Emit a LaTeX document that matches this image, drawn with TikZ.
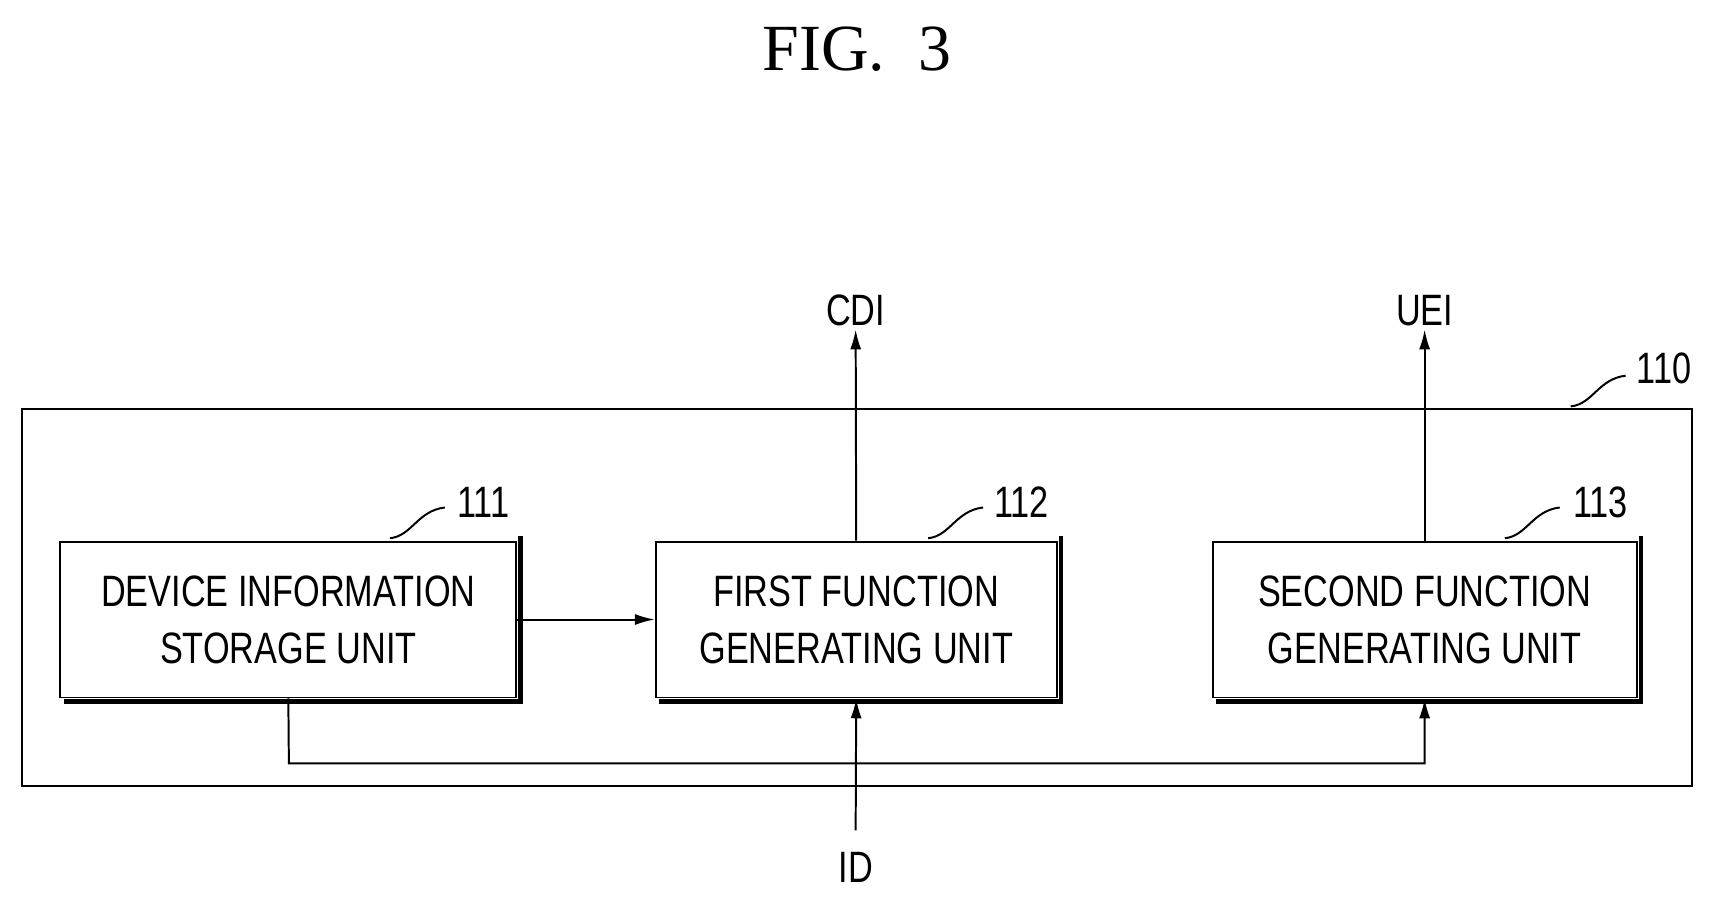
\documentclass[tikz,border=0pt]{standalone}
\usepackage{fontspec}
\setmainfont{Liberation Sans}[FakeStretch=0.78]
\newfontfamily\titlefont{Liberation Serif}
\usetikzlibrary{arrows.meta}
\begin{document}
\begin{tikzpicture}[x=0.5pt,y=-0.5pt,
  blk/.style={draw,line width=0.9pt,minimum width=#1,minimum height=71pt,align=center,font=\fontsize{20}{26}\selectfont,inner sep=0pt},
  lbl/.style={font=\fontsize{20}{24}\selectfont},
  ar/.style={-{Latex[length=9pt,width=5pt]},line width=0.9pt},
  ln/.style={line width=0.9pt}]
\useasboundingbox (0,0) rectangle (1565,821);
\node[font=\titlefont\fontsize{30}{34}\selectfont] (t) at (780,45) {FIG.\ \ 3};
\draw[ln] (20,372) rectangle (1540,716);
\node[lbl] (l110) at (1515,335) {110};
\draw[ln] (1430,370) .. controls (1450,368) and (1455,345) .. (1480,342);
\node[blk=207.5pt] (b1) at (262.5,564) {DEVICE INFORMATION\\STORAGE UNIT};
\node[blk=182.5pt] (b2) at (779.5,564) {FIRST FUNCTION\\GENERATING UNIT};
\node[blk=193pt] (b3) at (1297,564) {SECOND FUNCTION\\GENERATING UNIT};
\foreach \b in {b1,b2,b3}{\draw[line width=2.2pt] ([xshift=1.5pt,yshift=2pt]\b.north east) -- ([xshift=1.5pt,yshift=-1.5pt]\b.south east) -- ([xshift=2pt,yshift=-1.5pt]\b.south west);}
\node[lbl] (l1) at (440,457) {111};
\node[lbl] (l2) at (930,457) {112};
\node[lbl] (l3) at (1457,457) {113};
\draw[ln] (355,490) .. controls (375,488) and (380,465) .. (405,462);
\draw[ln] (845,490) .. controls (865,488) and (870,465) .. (895,462);
\draw[ln] (1370,490) .. controls (1390,488) and (1395,465) .. (1420,462);
\draw[ar] (b1.east) -- (b2.west);
\node[lbl] (cdi) at (779,283) {CDI};
\node[lbl] (uei) at (1297,283) {UEI};
\node[lbl] (id) at (779,790) {ID};
\coordinate (ct) at (779,300);
\coordinate (ut) at (1297,300);
\coordinate (ib) at (779,756);
\draw[ar] (b2.north) -- (ct);
\draw[ar] (b3.north) -- (ut);
\draw[ar] (ib) -- (b2.south);
\coordinate (c1) at (263,695);
\coordinate (c2) at (1297,695);
\draw[ar] (b1.south) -- (c1) -- (c2) -- (b3.south);
\end{tikzpicture}
\end{document}
